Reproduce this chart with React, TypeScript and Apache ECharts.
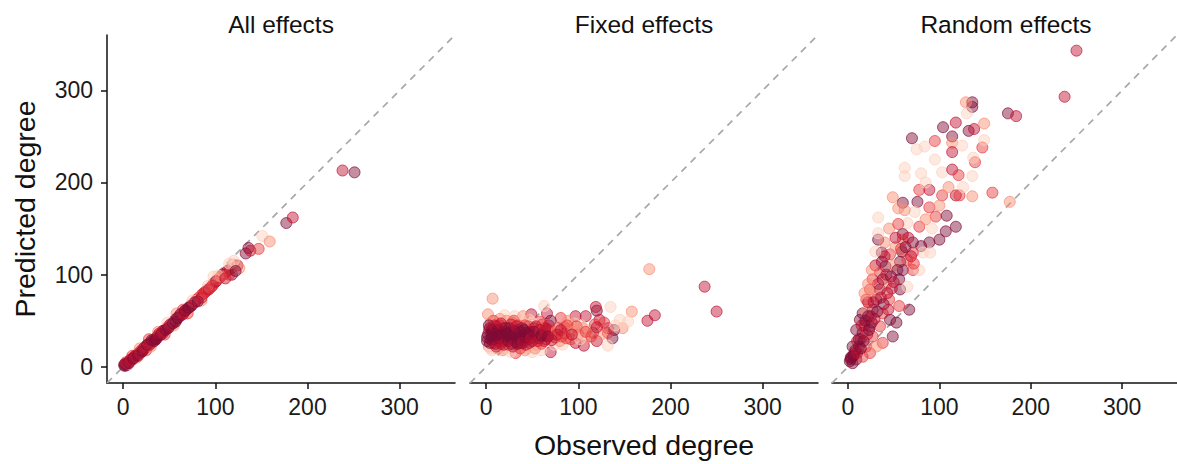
import React, { useEffect, useRef } from 'react';
import * as echarts from 'echarts';

const panelTitles = ['All effects', 'Fixed effects', 'Random effects'];
const xAxisTitle = 'Observed degree';
const yAxisTitle = 'Predicted degree';
const tickValues = [0, 100, 200, 300];
const axisMin = -17.5;
const axisMax = 360;

// [observed, predicted, colour tone 0 (light) .. 4 (dark)]
const allEffects = [
  [1, 2, 4], [2, 1, 4], [3, 3, 3], [4, 2, 4], [5, 4, 4], [6, 5, 3], [7, 6, 4], [8, 6, 2], [9, 8, 4], [10, 8, 3],
  [11, 10, 4], [12, 10, 2], [13, 11, 4], [14, 12, 3], [15, 13, 4], [16, 14, 3], [17, 15, 4], [18, 15, 2], [19, 17, 4], [20, 17, 3],
  [21, 19, 4], [22, 19, 3], [23, 20, 4], [24, 21, 2], [25, 22, 4], [26, 22, 3], [27, 24, 4], [28, 24, 1], [29, 26, 4], [30, 26, 3],
  [31, 27, 4], [32, 28, 2], [33, 29, 4], [34, 30, 3], [35, 30, 4], [36, 32, 3], [37, 33, 4], [38, 33, 2], [39, 34, 4], [40, 35, 3],
  [42, 37, 4], [43, 36, 2], [44, 39, 4], [45, 40, 3], [47, 41, 4], [48, 43, 3], [50, 44, 2], [52, 46, 4], [53, 47, 3], [55, 49, 4],
  [56, 50, 4], [57, 52, 3], [58, 51, 4], [60, 54, 3], [61, 55, 4], [62, 55, 2], [64, 57, 3], [66, 59, 2], [68, 61, 4], [70, 63, 3],
  [72, 65, 4], [73, 66, 2], [75, 68, 3], [77, 70, 1], [79, 72, 3], [80, 73, 2], [82, 75, 3], [84, 77, 1], [86, 79, 2], [88, 80, 3],
  [90, 82, 3], [92, 84, 2], [94, 86, 1], [96, 87, 3], [98, 90, 2], [100, 92, 4], [103, 95, 1], [105, 97, 2], [108, 100, 3], [110, 101, 2],
  [113, 104, 4], [116, 106, 3], [120, 111, 1], [118, 100, 4], [124, 110, 3], [126, 107, 1], [133, 123, 4], [136, 129, 4], [138, 126, 3], [147, 128, 2],
  [151, 142, 0], [159, 136, 1], [177, 156, 4], [184, 162, 3], [238, 213, 3], [251, 211, 4],
  [15, 10, 1], [25, 18, 2], [30, 22, 1], [45, 35, 2], [55, 45, 1], [70, 58, 2], [85, 72, 1], [98, 98, 0], [103, 99, 0], [115, 112, 0], [120, 115, 0],
  [3, 5, 2], [6, 3, 1], [10, 12, 2], [18, 20, 1], [28, 30, 2], [38, 38, 1], [48, 48, 0], [58, 58, 1], [65, 62, 2], [75, 72, 0], [92, 88, 0],
  [2, 3, 4], [4, 4, 3], [6, 4, 4], [8, 8, 3], [11, 9, 4], [13, 12, 3], [16, 12, 4], [19, 15, 3], [21, 17, 4], [23, 21, 3],
  [26, 24, 4], [29, 24, 3], [31, 29, 4], [34, 28, 4], [36, 30, 4], [39, 36, 3], [41, 35, 4], [43, 39, 3], [46, 40, 4], [49, 42, 4],
  [51, 46, 3], [54, 47, 4], [57, 49, 4], [59, 53, 4], [62, 57, 4], [65, 57, 3], [67, 61, 4], [71, 64, 4], [74, 66, 4], [78, 70, 3],
  [81, 71, 4], [85, 75, 3], [89, 81, 2], [93, 84, 3], [97, 88, 2], [101, 93, 3], [106, 98, 1], [111, 96, 3], [115, 100, 2], [122, 104, 4],
];

const fixedEffects = [
  [7, 74, 1], [177, 106, 1], [237, 87, 3], [250, 60, 3], [175, 50, 3], [183, 56, 3], [158, 60, 1], [120, 61, 4], [119, 65, 3], [135, 65, 0],
  [66, 58, 3], [49, 57, 3], [2, 57, 1], [108, 55, 3], [97, 55, 3], [81, 53, 2], [70, 50, 4], [132, 42, 3], [139, 40, 4], [137, 31, 4],
  [148, 42, 1], [132, 37, 2], [116, 37, 4], [120, 28, 3], [106, 23, 3], [97, 26, 3], [70, 16, 3], [50, 16, 0], [32, 15, 2], [132, 23, 0],
  [96, 47, 0], [85, 43, 2], [64, 34, 4], [64, 42, 4], [58, 49, 2], [47, 51, 0], [31, 55, 0], [20, 56, 0], [63, 66, 0], [154, 49, 0],
  [145, 51, 0], [123, 51, 3], [103, 45, 0],
  [3, 22, 1], [6, 18, 0], [12, 20, 1], [20, 20, 0], [28, 48, 1], [35, 22, 1], [45, 20, 0], [55, 24, 1], [30, 50, 2], [15, 52, 1], [8, 50, 2], [40, 55, 1],
  [5, 20, 0], [18, 18, 1], [27, 16, 0], [42, 18, 1], [60, 18, 0], [5, 48, 1], [22, 50, 1], [50, 48, 0],
  [3, 40, 2], [7, 26, 2], [13, 28, 3], [17, 42, 3], [24, 24, 2], [27, 46, 3], [34, 45, 2], [37, 20, 2], [43, 24, 3], [46, 44, 2],
  [53, 20, 1], [61, 46, 2], [74, 24, 0], [83, 24, 0], [89, 50, 1], [98, 44, 2],
  [2, 35, 4], [5, 30, 4], [8, 40, 3], [10, 25, 4], [12, 33, 4], [15, 45, 2], [18, 28, 4], [20, 38, 4], [22, 30, 3], [25, 42, 4],
  [28, 25, 4], [30, 35, 4], [33, 30, 3], [35, 40, 4], [38, 26, 4], [40, 35, 3], [42, 45, 2], [45, 30, 4], [48, 38, 3], [50, 28, 4],
  [52, 42, 3], [55, 33, 4], [58, 40, 3], [60, 25, 2], [62, 36, 4], [65, 30, 3], [68, 45, 3], [70, 38, 2], [75, 32, 3], [78, 42, 2],
  [80, 28, 1], [85, 36, 3], [90, 40, 1], [92, 30, 2], [100, 35, 2], [105, 42, 1], [110, 32, 1],
  [1, 28, 4], [4, 42, 3], [6, 36, 4], [9, 30, 4], [11, 44, 3], [14, 38, 4], [16, 25, 3], [19, 33, 4], [23, 36, 4], [26, 31, 4],
  [29, 40, 3], [32, 27, 4], [36, 34, 4], [39, 42, 4], [41, 29, 4], [44, 37, 4], [47, 26, 3], [51, 35, 4], [54, 44, 3], [57, 31, 4],
  [59, 38, 2], [63, 28, 3], [66, 41, 3], [72, 35, 2], [76, 38, 1], [82, 33, 2], [88, 45, 2], [95, 38, 1], [112, 40, 0], [125, 35, 1],
  [118, 46, 2], [128, 48, 2], [140, 45, 0], [102, 30, 0],
  [1, 32, 4], [3, 45, 4], [4, 26, 4], [6, 40, 4], [7, 33, 4], [9, 45, 3], [10, 36, 4], [11, 22, 3], [13, 40, 4], [14, 31, 4],
  [16, 47, 3], [17, 35, 4], [19, 24, 3], [21, 42, 4], [22, 35, 4], [24, 28, 4], [25, 37, 4], [27, 33, 4], [29, 22, 3], [31, 38, 4],
  [33, 44, 3], [34, 25, 4], [36, 30, 4], [37, 38, 4], [40, 26, 3], [41, 40, 4], [43, 32, 4], [46, 35, 4], [49, 31, 3], [52, 38, 4],
  [56, 28, 3], [60, 34, 4], [64, 39, 3], [67, 33, 4], [71, 29, 3], [77, 35, 3], [81, 40, 3], [87, 31, 2], [93, 35, 3], [108, 38, 2],
  [114, 33, 2], [120, 43, 3],
];

const randomEffects = [
  [250, 343, 3], [237, 293, 3], [175, 275, 4], [184, 272, 3], [177, 179, 1], [158, 189, 2],
  [136, 287, 4], [136, 282, 4], [129, 287, 1], [104, 260, 4], [118, 265, 3], [132, 256, 4], [138, 258, 3], [149, 264, 1], [70, 248, 4], [95, 245, 2],
  [114, 250, 4], [84, 239, 0], [75, 236, 0], [114, 243, 1], [114, 233, 3], [147, 238, 2], [149, 246, 0], [139, 222, 2], [137, 227, 0], [62, 216, 0],
  [62, 207, 0], [103, 211, 0], [114, 214, 3], [121, 208, 2], [136, 207, 0], [78, 192, 2], [89, 192, 3], [103, 186, 2], [118, 186, 3], [122, 186, 2],
  [136, 185, 1], [49, 184, 1], [60, 178, 4], [76, 179, 4], [55, 172, 1], [73, 168, 0], [89, 173, 2], [96, 163, 2], [108, 164, 4], [118, 152, 4],
  [33, 162, 0], [65, 156, 0], [78, 152, 2], [107, 147, 4], [33, 138, 4], [33, 145, 0], [60, 144, 4], [60, 138, 2], [71, 135, 4], [80, 131, 4],
  [89, 135, 4], [100, 138, 4], [82, 124, 0], [90, 124, 0], [71, 124, 2], [59, 125, 4], [37, 124, 4], [46, 122, 2], [57, 114, 4], [65, 116, 2],
  [37, 114, 4], [41, 109, 4], [60, 105, 4], [71, 105, 2], [78, 105, 0], [35, 102, 2], [27, 95, 2], [38, 95, 4], [56, 95, 4], [24, 84, 2],
  [35, 84, 4], [57, 84, 4], [65, 87, 0], [20, 73, 2], [31, 73, 4], [45, 73, 2], [67, 62, 4], [56, 66, 2], [16, 58, 4], [27, 62, 4],
  [38, 58, 2], [46, 51, 4], [53, 48, 4], [13, 51, 4], [24, 44, 4], [35, 44, 2], [49, 33, 4], [9, 40, 4], [16, 37, 4], [27, 33, 2],
  [38, 26, 2], [5, 22, 4], [12, 22, 4], [20, 22, 2], [4, 11, 4], [9, 8, 4], [16, 11, 2], [2, 6, 4], [5, 4, 4], [24, 15, 2], [31, 22, 1],
  [45, 150, 1], [52, 130, 1], [85, 200, 0], [95, 225, 0], [125, 240, 0], [130, 275, 0], [50, 110, 1], [42, 90, 1], [30, 80, 1], [20, 60, 1],
  [14, 30, 3], [7, 15, 3], [3, 10, 4], [10, 28, 3], [18, 45, 3], [25, 55, 3], [42, 100, 3], [48, 85, 3], [30, 110, 3], [22, 70, 3],
  [3, 8, 4], [6, 12, 4], [8, 18, 4], [10, 15, 3], [12, 30, 4], [14, 20, 4], [15, 45, 3], [17, 28, 4], [19, 50, 4], [21, 35, 3],
  [22, 55, 4], [23, 40, 4], [26, 48, 4], [28, 70, 3], [29, 52, 3], [32, 60, 4], [33, 90, 3], [36, 75, 3], [39, 68, 4], [40, 120, 3],
  [43, 80, 3], [44, 62, 3], [47, 98, 4], [50, 92, 3], [52, 140, 3], [54, 105, 4], [58, 128, 2], [63, 130, 4], [66, 140, 3], [69, 120, 3],
  [72, 112, 2], [26, 105, 1], [22, 90, 1], [40, 135, 1], [30, 125, 0], [18, 80, 1], [55, 155, 2], [62, 170, 1], [85, 160, 1], [92, 150, 0],
  [100, 175, 1], [110, 195, 1], [126, 195, 0], [80, 210, 0],
];

const toneColors = ['#fdcfbb', '#f98a70', '#e8383a', '#c0102f', '#800a35'];

function rgba(hex: string, a: number) {
  const n = parseInt(hex.slice(1), 16);
  return `rgba(${(n >> 16) & 255},${(n >> 8) & 255},${n & 255},${a})`;
}

const FONT = "'Liberation Sans', Arial, Helvetica, sans-serif";

export default function App() {
  const ref = useRef<HTMLDivElement>(null);
  useEffect(() => {
    if (!ref.current) return;
    const chart = echarts.init(ref.current, null, { renderer: 'svg' });
    const panels = [allEffects, fixedEffects, randomEffects];
    const lefts = [107, 470, 832];
    const top = 35;
    const size = 348;

    const grid = lefts.map((l) => ({ left: l, top, width: size, height: size }));
    const xAxis = lefts.map((_, i) => ({
      type: 'value',
      gridIndex: i,
      min: axisMin,
      max: axisMax,
      splitLine: { show: false },
      axisLine: { show: true, onZero: false, lineStyle: { color: '#111', width: 1.5 } },
      axisTick: { show: true, length: 6, customValues: tickValues, lineStyle: { color: '#111', width: 1.5 } },
      axisLabel: { customValues: tickValues, fontSize: 23, color: '#1a1a1a', margin: 12, fontFamily: FONT },
    }));
    const yAxis = lefts.map((_, i) => ({
      type: 'value',
      gridIndex: i,
      min: axisMin,
      max: axisMax,
      show: i === 0,
      splitLine: { show: false },
      axisLine: { show: true, onZero: false, lineStyle: { color: '#111', width: 1.5 } },
      axisTick: { show: true, length: 6, customValues: tickValues, lineStyle: { color: '#111', width: 1.5 } },
      axisLabel: { customValues: tickValues, fontSize: 23, color: '#1a1a1a', margin: 14, fontFamily: FONT },
    }));

    const series: any[] = [];
    panels.forEach((pts, i) => {
      series.push({
        type: 'line',
        xAxisIndex: i,
        yAxisIndex: i,
        data: [[axisMin, axisMin], [axisMax, axisMax]],
        symbol: 'none',
        silent: true,
        z: 1,
        lineStyle: { type: [7, 6], color: '#a8a8a8', width: 1.7 },
      });
      series.push({
        type: 'scatter',
        xAxisIndex: i,
        yAxisIndex: i,
        symbolSize: 11,
        z: 2,
        data: pts.map(([x, y, t]) => ({
          value: [x, y],
          itemStyle: { color: rgba(toneColors[t], 0.58), borderColor: rgba(toneColors[t], 0.85), borderWidth: 1 },
        })),
      });
    });

    const graphic: any[] = panelTitles.map((t, i) => ({
      type: 'text',
      x: lefts[i] + size / 2,
      y: 24,
      style: { text: t, align: 'center', verticalAlign: 'middle', textAlign: 'center', textVerticalAlign: 'middle', fontSize: 24.5, fill: '#111', fontFamily: FONT },
    }));
    graphic.push({
      type: 'text',
      x: lefts[1] + size / 2,
      y: 445,
      style: { text: xAxisTitle, align: 'center', verticalAlign: 'middle', textAlign: 'center', textVerticalAlign: 'middle', fontSize: 28.5, fill: '#111', fontFamily: FONT },
    });
    graphic.push({
      type: 'text',
      x: 25,
      y: top + size / 2,
      rotation: Math.PI / 2,
      style: { text: yAxisTitle, align: 'center', verticalAlign: 'middle', textAlign: 'center', textVerticalAlign: 'middle', fontSize: 28.5, fill: '#111', fontFamily: FONT },
    });

    chart.setOption({
      animation: false,
      backgroundColor: '#ffffff',
      grid,
      xAxis,
      yAxis,
      series,
      graphic,
    });
    return () => chart.dispose();
  }, []);
  return <div ref={ref} style={{ position: 'fixed', left: 0, top: 0, width: 1177, height: 464 }} />;
}
